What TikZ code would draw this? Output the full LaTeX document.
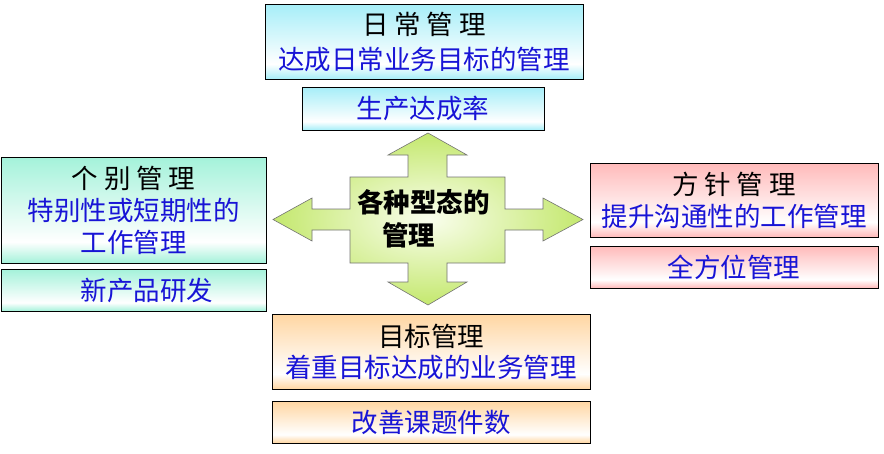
\documentclass[tikz,border=0pt]{standalone}
\usepackage{fontspec}
\newfontfamily\cjk{Noto Sans CJK SC}
\definecolor{cyanC}{RGB}{166,238,248}
\definecolor{aquaC}{RGB}{164,242,218}
\definecolor{pinkC}{RGB}{255,186,186}
\definecolor{peachC}{RGB}{255,214,162}
\definecolor{txtblue}{RGB}{24,20,214}
\definecolor{limeC}{RGB}{196,232,110}
\definecolor{limeL}{RGB}{250,254,238}
\pgfdeclareverticalshading{shcyan}{100bp}{color(0bp)=(cyanC); color(25bp)=(cyanC); color(35bp)=(white); color(75bp)=(cyanC); color(100bp)=(cyanC)}
\pgfdeclareverticalshading{shaqua}{100bp}{color(0bp)=(aquaC); color(25bp)=(aquaC); color(35bp)=(white); color(75bp)=(aquaC); color(100bp)=(aquaC)}
\pgfdeclareverticalshading{shpink}{100bp}{color(0bp)=(pinkC); color(25bp)=(pinkC); color(35bp)=(white); color(75bp)=(pinkC); color(100bp)=(pinkC)}
\pgfdeclareverticalshading{shpeach}{100bp}{color(0bp)=(peachC); color(25bp)=(peachC); color(35bp)=(white); color(75bp)=(peachC); color(100bp)=(peachC)}
\begin{document}
\begin{tikzpicture}[x=1pt,y=-1pt,
  box/.style={draw=black, line width=0.8pt, inner sep=0pt, align=center, shade,
    font=\cjk\fontsize{26.5}{33}\selectfont},
  bluetxt/.style={text=txtblue},
  crossshape/.style={draw=black!55, line width=0.6pt, inner color=limeL, outer color=limeC},
  centertxt/.style={font=\cjk\bfseries\fontsize{26.5}{33}\selectfont, align=left, inner sep=0pt, anchor=west}]
\useasboundingbox (0,0) rectangle (884,453);

% central four-way arrow
\path[crossshape] (428,133) -- (467,155) -- (447,155) -- (447,177) -- (505,177) -- (505,209)
  -- (543,209) -- (543,198) -- (583,219.5) -- (543,241) -- (543,230) -- (505,230) -- (505,263)
  -- (447,263) -- (447,282) -- (467,282) -- (428,305) -- (388,282) -- (408,282) -- (408,263)
  -- (350,263) -- (350,230) -- (312,230) -- (312,241) -- (273,219.5) -- (312,198) -- (312,209)
  -- (350,209) -- (350,177) -- (408,177) -- (408,155) -- (388,155) -- cycle;
\node[centertxt] (kinds) at (357,218.5) {各种型态的\\\hspace*{25pt}管理};

% top
\node[box, shading=shcyan, minimum width=318pt, minimum height=75pt, font=\cjk\fontsize{26.5}{35}\selectfont] (daily) at (424,41.5)
  {日 常 管 理\\\textcolor{txtblue}{达成日常业务目标的管理}};
\node[box, shading=shcyan, minimum width=242pt, minimum height=43pt, bluetxt] (dailyk) at (423,108.5) {生产达成率};

% left
\node[box, shading=shaqua, minimum width=265pt, minimum height=106pt, font=\cjk\fontsize{26.5}{32}\selectfont] (indiv) at (133.5,210)
  {个 别 管 理\\\textcolor{txtblue}{特别性或短期性的}\\\textcolor{txtblue}{工作管理}};
\node[box, shading=shaqua, minimum width=265pt, minimum height=42pt, bluetxt] (indivk) at (133.5,290) {\hspace*{27pt}新产品研发};

% right
\node[box, shading=shpink, minimum width=288pt, minimum height=74pt, font=\cjk\fontsize{26.5}{32}\selectfont] (policy) at (734,200)
  {方 针 管 理\\\textcolor{txtblue}{提升沟通性的工作管理}};
\node[box, shading=shpink, minimum width=288pt, minimum height=42pt, bluetxt] (policyk) at (734,267) {全方位管理};

% bottom
\node[box, shading=shpeach, minimum width=318pt, minimum height=75pt, font=\cjk\fontsize{26.5}{31}\selectfont] (goal) at (431,351.5)
  {目标管理\\\textcolor{txtblue}{着重目标达成的业务管理}};
\node[box, shading=shpeach, minimum width=318pt, minimum height=42pt, bluetxt] (goalk) at (431,422) {改善课题件数};
\end{tikzpicture}
\end{document}
